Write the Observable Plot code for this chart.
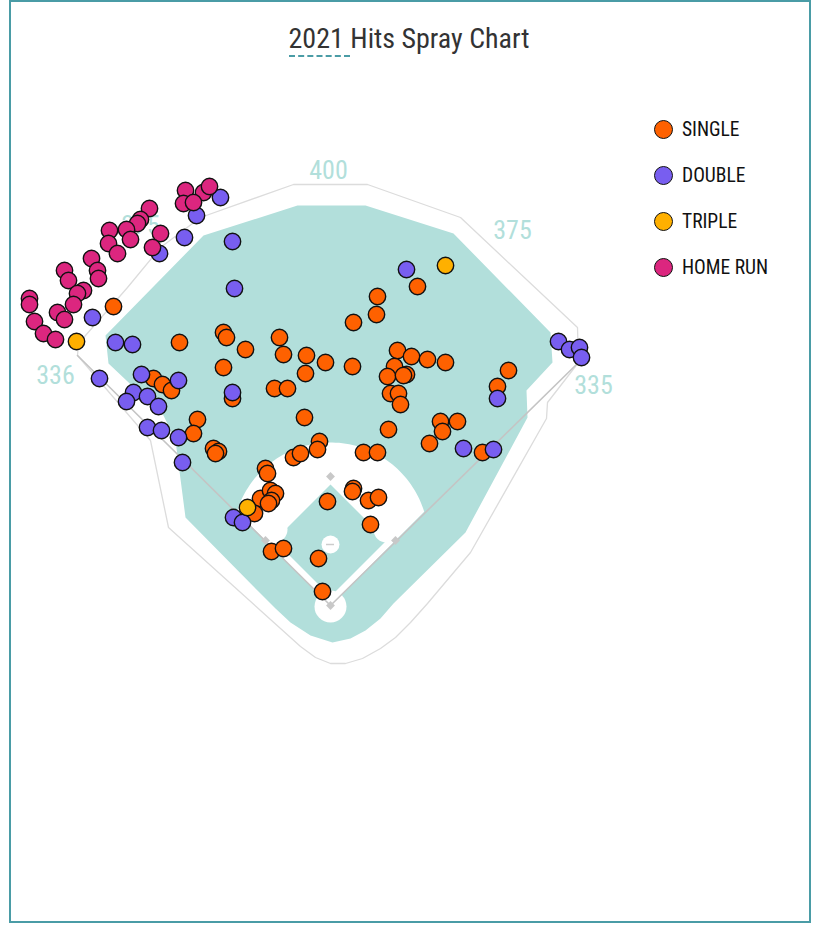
<!DOCTYPE html>
<html>
<head>
<meta charset="utf-8">
<script src="https://cdn.jsdelivr.net/npm/d3@7"></script>
<script src="https://cdn.jsdelivr.net/npm/@observablehq/plot@0.6"></script>
<style>
  html, body { margin: 0; padding: 0; background: #fff; }
  body { width: 818px; height: 926px; position: relative; overflow: hidden;
         font-family: "Roboto Condensed", "Liberation Sans Narrow", "Arial Narrow", Roboto, sans-serif; }
  #frame { position: absolute; left: 9px; top: 0; width: 798px; height: 919px;
           border: 2px solid #4a9ca6; box-sizing: content-box; }
  #title { position: absolute; left: 0; top: 21px; width: 818px; text-align: center;
           font-size: 28px; line-height: 36px; color: #333; }
  #title .yr { border-bottom: 2px dashed #4a9ca6; }
  #chart { position: absolute; left: 0; top: 0; }
  #legend { position: absolute; left: 654px; top: 119.5px; }
  .item { display: flex; align-items: center; height: 46px; margin-top: -13px; margin-bottom: 13px; }
  .sw { width: 17px; height: 17px; border-radius: 50%; border: 1.5px solid #111; margin-right: 9px; }
  .lab { font-size: 19.5px; color: #111; }
</style>
</head>
<body>
<div id="frame"></div>
<div id="chart"></div>
<div id="title"><span class="yr">2021&nbsp;</span>Hits Spray Chart</div>
<div id="legend"></div>
<script>
// ---- categories & colours ----
const hitTypes = ["SINGLE", "DOUBLE", "TRIPLE", "HOME RUN"];
const hitColors = ["#FE6100", "#785EF0", "#FFB000", "#DC267F"];

// ---- hit locations (offset from home plate, chart units; y toward centre field) ----
const singles = [
  [-217,299],[-151,263],[-107,273],[-104,268],[-85,256],[-107,238],[-51,268],[-47,251],
  [-56,217],[-43,217],[-98,207],[-177,227],[-168,221],[-159,215],[-133,186],[-137,172],
  [-117,157],[-112,154],[-115,152],[-65,137],[-63,132],[-37,148],[-30,152],
  [87,319],[47,309],[46,291],[23,283],[-24,250],[-25,232],[-5,243],[22,239],
  [67,255],[81,249],[97,246],[115,243],[64,239],[57,229],[76,231],[73,230],[60,212],[68,212],[70,201],
  [-26,188],[58,176],[110,184],[112,174],[127,184],[99,162],[33,153],[47,153],[-11,164],[-13,156],
  [178,235],[167,219],[152,153],
  [-70,107],[-60,115],[-55,112],[-59,105],[-62,102],[-76,92],
  [-3,104],[23,117],[22,114],[38,105],[48,108],[40,81],[-59,54],[-47,57],[-12,47],[-8,14]
];
const doubles = [
  [-110,408],[-134,390],[-146,368],[-171,352],[-98,364],[-96,317],
  [-238,288],[-215,263],[-198,261],[-231,227],[-189,231],[-152,225],[-197,213],[-183,209],
  [-204,204],[-172,199],[-98,213],[-183,178],[-169,175],[-152,168],[-148,143],
  [76,336],[167,207],[133,157],[163,156],[228,264],[239,256],[249,258],[251,248],
  [-97,88],[-88,83]
];
const triples = [[115,340],[-254,264],[-83,98]];
const homeRuns = [
  [-145,415],[-127,413],[-121,419],[-147,402],[-137,403],
  [-181,397],[-190,386],[-193,382],
  [-204,376],[-200,366],[-221,375],[-222,362],[-213,352],[-170,372],[-178,358],
  [-266,335],[-262,325],[-239,347],[-233,335],[-232,327],[-247,315],[-253,312],[-257,301],[-273,293],[-266,286],
  [-301,307],[-301,301],[-296,284],[-287,272],[-275,266]
];

// ---- field outline (same chart units) ----
const wallOutline = [
  [-253,250],[-252,262],[-203,318],[-170,358],[-130,388],[-37,421],[37,421],[130,388],
  [247,278],[248,243],[217,203],[216,187],[140,53],[97,2],[80,-17],[65,-32],[50,-43],
  [32,-53],[15,-58],[0,-58],[-15,-52],[-30,-41],[-50,-23],[-70,-5],[-162,78],[-180,165],[-253,250]
];
const grassOutline = [
  [-225,270],[-127,370],[-33,400],[35,400],[123,372],[220,273],[222,243],[196,215],[197,188],
  [135,73],[63,2],[50,-13],[35,-25],[20,-33],[2,-37],[-20,-30],[-40,-17],[-55,-3],[-73,15],
  [-145,88],[-155,165],[-167,190],[-222,242]
];
const infieldGrass = [[0,121],[-56,65],[0,9],[56,65]];
const foulLines = [[-253,250],[0,0],[248,243]];
const basePositions = [[0,129],[-65,65],[65,65],[0,0]];
const baseCutouts = [[-56,76],[56,76]];
const homeCircle = [[0,-1]];
const mound = [[0,61]];
const rubber = [{x1: -4, x2: 4, y: 61}];
const dirtCenter = [0, 65], dirtRadius = 98, foulMeet = 93.7;
const distanceText = ["336", "375", "400", "375", "335"];
const distanceSpots = [[-275,230],[-190,380],[-2,435],[182,375],[263,220]];

// build tables
const hits = [
  ...singles.map(([x, y]) => ({x, y, type: "SINGLE"})),
  ...doubles.map(([x, y]) => ({x, y, type: "DOUBLE"})),
  ...triples.map(([x, y]) => ({x, y, type: "TRIPLE"})),
  ...homeRuns.map(([x, y]) => ({x, y, type: "HOME RUN"}))
];
const arcPts = d3.range(17, 163.01, 2).map(a => [
  dirtCenter[0] + dirtRadius * Math.cos(a * Math.PI / 180),
  dirtCenter[1] + dirtRadius * Math.sin(a * Math.PI / 180)
]);
const dirt = [[0, 0], [foulMeet, foulMeet], ...arcPts, [-foulMeet, foulMeet]];
const labels = distanceText.map((t, i) => ({t, x: distanceSpots[i][0], y: distanceSpots[i][1]}));

const FONT = '"Roboto Condensed", "Liberation Sans Narrow", "Arial Narrow", Roboto, sans-serif';
const GRASS = "#b2dfdb";

const chart = Plot.plot({
  width: 818, height: 926, margin: 0,
  x: {domain: [-330, 488], axis: null},
  y: {domain: [-321, 605], axis: null},
  color: {domain: hitTypes, range: hitColors},
  style: {background: "transparent", overflow: "visible"},
  marks: [
    Plot.line(wallOutline, {x: d => d[0], y: d => d[1], stroke: "#dcdcdc", strokeWidth: 1.3}),
    Plot.line(grassOutline, {x: d => d[0], y: d => d[1], fill: GRASS, stroke: "none"}),
    Plot.line(dirt, {x: d => d[0], y: d => d[1], fill: "white", stroke: "none"}),
    Plot.line(infieldGrass, {x: d => d[0], y: d => d[1], fill: GRASS, stroke: "none"}),
    Plot.dot(baseCutouts, {x: d => d[0], y: d => d[1], r: 13, fill: "white", stroke: "none"}),
    Plot.dot(homeCircle, {x: d => d[0], y: d => d[1], r: 16, fill: "white", stroke: "none"}),
    Plot.line(foulLines, {x: d => d[0], y: d => d[1], stroke: "#c4c4c4", strokeWidth: 1.6}),
    Plot.dot(mound, {x: d => d[0], y: d => d[1], r: 9, fill: "white", stroke: "none"}),
    Plot.ruleY(rubber, {x1: "x1", x2: "x2", y: "y", stroke: "#ccc", strokeWidth: 1.5}),
    Plot.dot(basePositions, {x: d => d[0], y: d => d[1], symbol: "diamond2", r: 4, fill: "#c8c8c8", stroke: "none"}),
    Plot.text(labels, {x: "x", y: "y", text: "t", fill: GRASS, fontSize: 26, fontFamily: FONT}),
    Plot.dot(hits, {x: "x", y: "y", fill: "type", r: 8.2, stroke: "#111", strokeWidth: 1.4})
  ]
});
document.getElementById("chart").appendChild(chart);

// legend
const leg = document.getElementById("legend");
hitTypes.forEach((t, i) => {
  const row = document.createElement("div");
  row.className = "item";
  const sw = document.createElement("span");
  sw.className = "sw";
  sw.style.background = hitColors[i];
  const lab = document.createElement("span");
  lab.className = "lab";
  lab.textContent = t;
  row.appendChild(sw); row.appendChild(lab);
  leg.appendChild(row);
});
</script>
</body>
</html>
